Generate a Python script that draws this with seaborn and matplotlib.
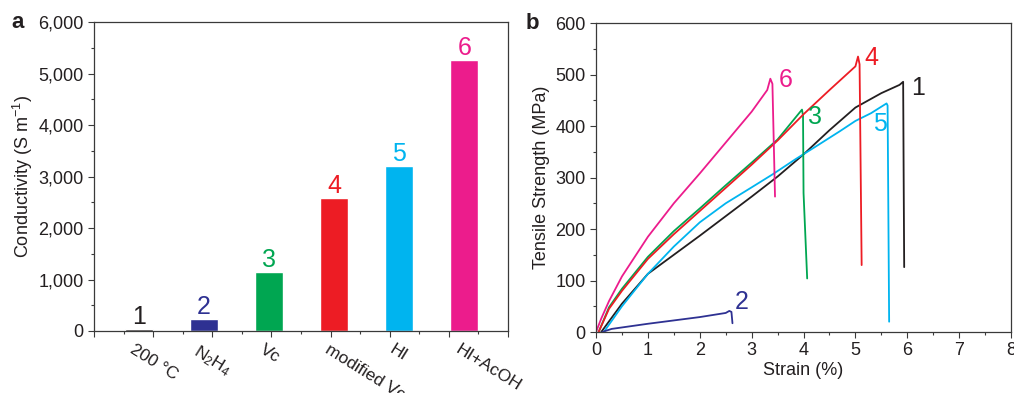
import numpy as np
import pandas as pd
import matplotlib
matplotlib.use('Agg')
import matplotlib.pyplot as plt
import seaborn as sns
from matplotlib.ticker import MultipleLocator, StrMethodFormatter


#---------------------------------------------------------------------------------------------
# panel a data
treatments = ['200 \u00b0C', 'N$_2$H$_4$', 'Vc', 'modified Vc', 'HI', 'HI+AcOH']
bar_numbers = ['1', '2', '3', '4', '5', '6']
conductivity = [30, 233, 1152, 2576, 3204, 5256]

colors = ['#231f20', '#2e3192', '#00a651', '#ed1c24', '#00b4ef', '#ec1c8c']

# panel b data (strain %, tensile strength MPa)
strain_1 = [0.1, 0.5, 1.0, 1.5, 2.0, 2.5, 3.0, 3.5, 4.0, 4.5, 5.0, 5.5, 5.85, 5.92, 5.93, 5.94]
stress_1 = [0, 55, 113, 150, 187, 225, 263, 302, 345, 392, 436, 464, 480, 486, 300, 126]

strain_2 = [0.12, 0.3, 1.0, 2.0, 2.5, 2.57, 2.61, 2.63]
stress_2 = [0, 6, 16, 29, 37, 41, 39, 17]

strain_3 = [0.05, 0.25, 0.5, 1.0, 1.5, 2.0, 2.5, 3.0, 3.5, 3.97, 3.99, 4.0, 4.07]
stress_3 = [0, 48, 84, 146, 196, 240, 285, 329, 374, 432, 420, 270, 104]

strain_4 = [0.05, 0.25, 0.5, 1.0, 1.5, 2.0, 2.5, 3.0, 3.5, 4.0, 4.5, 5.0, 5.05, 5.08, 5.12]
stress_4 = [0, 45, 80, 142, 190, 235, 280, 325, 372, 423, 470, 516, 535, 520, 130]

strain_5 = [0.15, 0.5, 1.0, 1.5, 2.0, 2.5, 3.0, 3.4, 3.85, 4.2, 4.7, 5.0, 5.3, 5.6, 5.62, 5.65]
stress_5 = [0, 50, 113, 166, 213, 250, 281, 306, 336, 358, 390, 410, 425, 444, 440, 20]

strain_6 = [0.0, 0.1, 0.25, 0.5, 1.0, 1.5, 2.0, 2.5, 3.0, 3.3, 3.36, 3.4, 3.45]
stress_6 = [0, 26, 60, 108, 185, 250, 308, 368, 428, 470, 492, 482, 263]

# where the curve numbers sit
label_strain = [6.2, 2.8, 4.22, 5.31, 5.48, 3.65]
label_stress = [473, 58, 418, 532, 405, 490]

TEXT = '#231f20'


#---------------------------------------------------------------------------------------------
def style_axes(ax):
    for side in ['left', 'right', 'top', 'bottom']:
        ax.spines[side].set_visible(True)
        ax.spines[side].set_color('#3a3a3a')
        ax.spines[side].set_linewidth(0.9)
    ax.tick_params(which='both', direction='out', color='#3a3a3a', width=0.8,
                   top=False, right=False, labelsize=13, labelcolor=TEXT)
    ax.tick_params(which='major', length=4)
    ax.tick_params(which='minor', length=2.5)


def draw_conductivity(ax):
    df = pd.DataFrame({'treatment': treatments, 'conductivity': conductivity})
    sns.barplot(data=df, x='treatment', y='conductivity', hue='treatment',
                palette=colors, width=0.43, legend=False, ax=ax, saturation=1)

    x0, x1 = -0.69, 5.67
    ax.set_xlim(x0, x1)
    ax.set_ylim(0, 6000)
    major = np.linspace(x0, x1, 8)
    ax.set_xticks(major, labels=[''] * len(major))
    ax.set_xticks((major[:-1] + major[1:]) / 2, minor=True)
    ax.yaxis.set_major_locator(MultipleLocator(1000))
    ax.yaxis.set_minor_locator(MultipleLocator(500))
    ax.yaxis.set_major_formatter(StrMethodFormatter('{x:,.0f}'))
    ax.set_xlabel('')
    ax.set_ylabel('Conductivity (S m$^{-1}$)', fontsize=13, color=TEXT, labelpad=2)
    style_axes(ax)

    for i, (val, num) in enumerate(zip(conductivity, bar_numbers)):
        ax.annotate(num, (i, val), xytext=(0, 0), textcoords='offset points',
                    ha='center', va='bottom', fontsize=18, color=colors[i])
        ax.text(i - 0.06, -0.035, treatments[i], transform=ax.get_xaxis_transform(),
                rotation=-32, rotation_mode='anchor', ha='left', va='top',
                fontsize=12.5, color=TEXT)

    ax.text(-0.2, 1.0, 'a', transform=ax.transAxes, fontsize=16,
            fontweight='bold', va='center', ha='left', color=TEXT)


def draw_tensile(ax):
    frames = []
    curves = [(strain_1, stress_1), (strain_2, stress_2), (strain_3, stress_3),
              (strain_4, stress_4), (strain_5, stress_5), (strain_6, stress_6)]
    for k, (sx, sy) in enumerate(curves):
        frames.append(pd.DataFrame({'strain': sx, 'stress': sy, 'sample': bar_numbers[k]}))
    df = pd.concat(frames, ignore_index=True)

    # overlay order roughly like the original
    for k in [0, 4, 1, 2, 3, 5]:
        sub = df[df['sample'] == bar_numbers[k]]
        sns.lineplot(data=sub, x='strain', y='stress', sort=False, estimator=None,
                     color=colors[k], linewidth=1.3, ax=ax)

    for k in range(6):
        ax.text(label_strain[k], label_stress[k], bar_numbers[k], fontsize=18,
                color=colors[k], ha='center', va='center')

    ax.set_xlim(0, 8)
    ax.set_ylim(0, 600)
    ax.xaxis.set_major_locator(MultipleLocator(1))
    ax.xaxis.set_minor_locator(MultipleLocator(0.5))
    ax.yaxis.set_major_locator(MultipleLocator(100))
    ax.yaxis.set_minor_locator(MultipleLocator(50))
    ax.set_xlabel('Strain (%)', fontsize=13, color=TEXT, labelpad=2)
    ax.set_ylabel('Tensile Strength (MPa)', fontsize=13, color=TEXT, labelpad=4)
    style_axes(ax)

    ax.text(-0.17, 1.0, 'b', transform=ax.transAxes, fontsize=16,
            fontweight='bold', va='center', ha='left', color=TEXT)


#---------------------------------------------------------------------------------------------
def main():
    sns.set_style('ticks')
    plt.rcParams['font.family'] = ['Liberation Sans', 'DejaVu Sans']
    plt.rcParams['mathtext.fontset'] = 'custom'
    plt.rcParams['mathtext.rm'] = 'Liberation Sans'
    plt.rcParams['mathtext.it'] = 'Liberation Sans:italic'

    fig = plt.figure(figsize=(10.14, 3.93), dpi=100)
    ax_a = fig.add_axes([0.0927, 0.1578, 0.4083, 0.786])
    ax_b = fig.add_axes([0.5878, 0.1552, 0.4093, 0.786])

    draw_conductivity(ax_a)
    draw_tensile(ax_b)

    fig.savefig('out.png', dpi=100)


if __name__ == "__main__":
    main()
